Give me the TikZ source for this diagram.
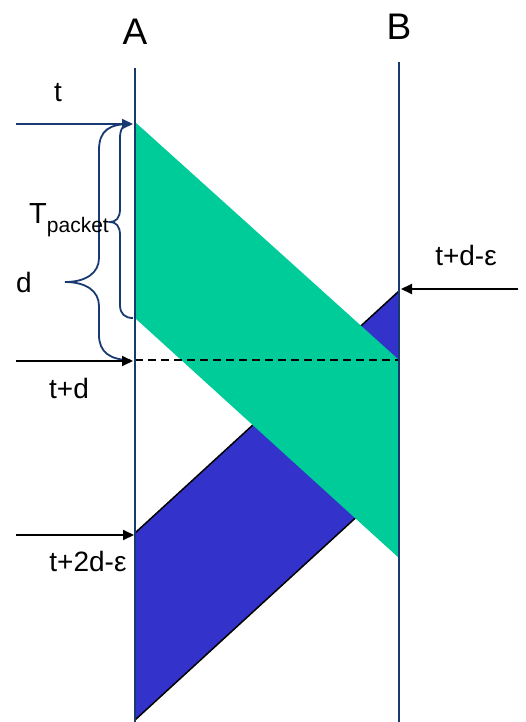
\documentclass[tikz,border=0pt]{standalone}
\usepackage{fontspec}
\setmainfont{Liberation Sans}
\usetikzlibrary{arrows.meta}
\definecolor{navy}{RGB}{24,58,112}
\definecolor{pktgreen}{RGB}{0,204,153}
\definecolor{pktblue}{RGB}{51,51,204}
\tikzset{
  timeline/.style={draw=navy, line width=1.4pt},
  bracestyle/.style={draw=navy, line width=1.8pt},
  evarrow/.style={draw=black, line width=2pt, -{Triangle[length=11pt,width=10pt]}},
  navyarrow/.style={draw=navy, line width=2pt, -{Triangle[length=11pt,width=10pt]}},
  big/.style={font=\fontsize{37}{37}\selectfont, inner sep=0pt, anchor=base},
  lbl/.style={font=\fontsize{28}{28}\selectfont, inner sep=0pt, anchor=base},
}
\begin{document}
\begin{tikzpicture}[x=1pt,y=-1pt]
\useasboundingbox (0,0) rectangle (526,722);
% coordinates
\coordinate (Atop) at (135,68);
\coordinate (Abot) at (135,722);
\coordinate (Btop) at (399,62);
\coordinate (Bbot) at (399,722);
\coordinate (g1) at (135,122);
\coordinate (g2) at (399,360);
\coordinate (g3) at (399,558);
\coordinate (g4) at (135,318);
\coordinate (b1) at (399,291);
\coordinate (b2) at (135,533);
\coordinate (b3) at (135,720);
\coordinate (b4) at (399,478);
\coordinate (tS) at (16,124);
\coordinate (tE) at (133,124);
\coordinate (tdS) at (16,361);
\coordinate (tdE) at (133,361);
\coordinate (dashA) at (135,360);
\coordinate (dashB) at (399,360);
\coordinate (tdeS) at (518,289);
\coordinate (tdeE) at (401,289);
\coordinate (t2S) at (16,535);
\coordinate (t2E) at (134,535);
% blue packet (returning)
\filldraw[fill=pktblue, draw=black, line width=1.5pt, line join=miter] (b1) -- (b2) -- (b3) -- (b4) -- cycle;
% green packet
\fill[pktgreen] (g1) -- (g2) -- (g3) -- (g4) -- cycle;
% dashed line
\draw[black, line width=1.5pt, dash pattern=on 8pt off 5pt] (dashA) -- (dashB);
% timelines
\draw[timeline] (Atop) -- (Abot);
\draw[timeline] (Btop) -- (Bbot);
% braces
\draw[bracestyle] (130,124) .. controls (110,124) and (99,130) .. (99,150) -- (99,258)
  .. controls (99,273) and (86,282) .. (65,282)
  .. controls (86,282) and (99,291) .. (99,306) -- (99,335)
  .. controls (99,352) and (110,360) .. (130,360);
\draw[bracestyle] (130,124) .. controls (124,124) and (120,128) .. (120,138) -- (120,209)
  .. controls (120,218) and (116,222) .. (110,222)
  .. controls (116,222) and (120,226) .. (120,235) -- (120,305)
  .. controls (120,314) and (125,318) .. (133,318);
% arrows
\draw[navyarrow] (tS) -- (tE);
\draw[evarrow] (tdS) -- (tdE);
\draw[evarrow] (tdeS) -- (tdeE);
\draw[evarrow] (t2S) -- (t2E);
% labels
\node[big] (lA) at (135,45) {A};
\node[big] (lB) at (399,40) {B};
\node[lbl] (lt) at (58,102) {t};
\node[inner sep=0pt, anchor=base west] (lT) at (29,223) {\fontsize{29}{29}\selectfont T\raisebox{-9pt}{\fontsize{21}{21}\selectfont packet}};
\node[lbl] (ld) at (24,292) {d};
\node[lbl] (ltd) at (69,398) {t+d};
\node[lbl] (ltde) at (466,265) {t+d-ε};
\node[lbl] (lt2) at (88,571) {t+2d-ε};
\end{tikzpicture}
\end{document}
